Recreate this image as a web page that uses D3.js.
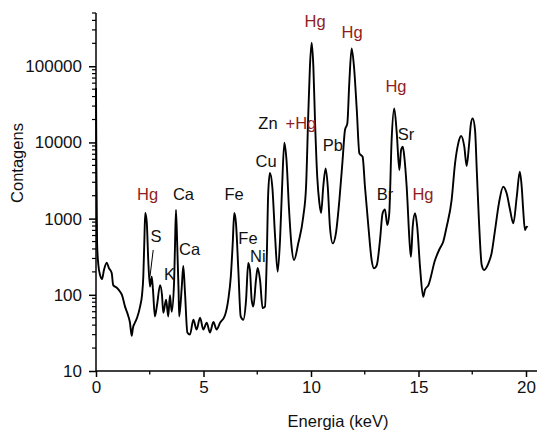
<!DOCTYPE html>
<html>
<head>
<meta charset="utf-8">
<script src="https://cdn.jsdelivr.net/npm/d3@7"></script>
<style>
  html, body { margin: 0; padding: 0; background: #fff; }
  svg { display: block; }
  text { font-family: "Liberation Sans", Arial, sans-serif; }
</style>
</head>
<body>
<svg id="chart" width="537" height="432"></svg>
<script>
// ---- data ----
const energy = [0, 0.02, 0.05, 0.11, 0.19, 0.28, 0.37, 0.50, 0.60, 0.73, 0.80, 0.98, 1.12, 1.21, 1.35, 1.49, 1.58, 1.66, 1.72, 1.81,
  1.91, 2.05, 2.14, 2.20, 2.25, 2.29, 2.36, 2.43, 2.51, 2.59, 2.65, 2.74, 2.84, 2.98, 3.07, 3.13, 3.26, 3.36, 3.44, 3.52,
  3.63, 3.67, 3.72, 3.78, 3.84, 3.87, 3.99, 4.06, 4.14, 4.25, 4.37, 4.53, 4.68, 4.84, 4.99, 5.15, 5.30, 5.46, 5.61, 5.77,
  6.00, 6.15, 6.27, 6.36, 6.43, 6.51, 6.62, 6.73, 6.85, 6.98, 7.08, 7.16, 7.24, 7.32, 7.44, 7.52, 7.63, 7.75, 7.86, 7.94,
  8.01, 8.09, 8.20, 8.33, 8.45, 8.56, 8.65, 8.76, 8.86, 8.98, 9.09, 9.21, 9.41, 9.64, 9.77, 9.87, 9.95, 10.03, 10.11, 10.19,
  10.29, 10.39, 10.47, 10.57, 10.68, 10.78, 10.88, 11.01, 11.16, 11.32, 11.47, 11.58, 11.69, 11.78, 11.89, 12.00, 12.13, 12.25, 12.40, 12.51,
  12.67, 12.82, 12.93, 13.06, 13.21, 13.33, 13.44, 13.55, 13.64, 13.75, 13.87, 13.99, 14.11, 14.19, 14.27, 14.34, 14.45, 14.60, 14.65, 14.73,
  14.84, 14.94, 15.07, 15.22, 15.30, 15.46, 15.77, 16.00, 16.15, 16.31, 16.54, 16.70, 16.85, 16.98, 17.13, 17.24, 17.35, 17.44, 17.52, 17.63,
  17.71, 17.81, 17.94, 18.05, 18.25, 18.40, 18.56, 18.74, 18.94, 19.10, 19.26, 19.41, 19.57, 19.71, 19.80, 19.87, 19.95, 20.03, 20.08];
const counts = [52000, 4300, 480, 246, 182, 161, 212, 264, 225, 193, 134, 123, 110, 99, 70, 54, 43, 29, 37, 43,
  50, 70, 99, 173, 524, 1184, 911, 286, 128, 173, 116, 52, 74, 134, 99, 58, 86, 52, 99, 60,
  143, 387, 1297, 428, 116, 52, 128, 239, 106, 32, 30, 47, 35, 50, 35, 43, 32, 44, 35, 43,
  54, 86, 173, 478, 1184, 875, 212, 52, 47, 86, 261, 212, 86, 70, 156, 225, 156, 67, 70, 286,
  2168, 3967, 2623, 578, 201, 524, 2372, 9910, 5875, 1297, 450, 286, 478, 1059, 2623, 21730, 98400, 203300, 98400, 17980,
  3548, 1602, 1184, 2623, 4571, 2623, 783, 474, 647, 1754, 5875, 14550, 17820, 59700, 171800, 98400, 26610, 7190, 6490, 2623,
  783, 286, 223, 246, 524, 1174, 1324, 824, 1174, 10740, 28000, 13160, 4345, 7943, 8790, 6490, 2623, 428, 316, 783,
  1174, 783, 234, 94, 116, 134, 286, 411, 498, 783, 1754, 5320, 9730, 12130, 8790, 4900, 9250, 17820, 20700, 14550,
  4345, 959, 246, 212, 259, 351, 708, 1588, 2623, 2148, 1297, 867, 1937, 4125, 2623, 1297, 708, 783, 769];

const xTicks = [0, 5, 10, 15, 20];
const xMinorTicks = [2.5, 7.5, 12.5, 17.5];
const yTicks = [10, 100, 1000, 10000, 100000];

const peakLabels = ["Hg", "Ca", "S", "K", "Ca", "Fe", "Fe", "Ni", "Cu", "Zn", "+Hg", "Hg", "Hg", "Pb", "Hg", "Sr", "Br", "Hg"];
const peakEnergy = [2.40, 4.07, 2.79, 3.42, 4.35, 6.42, 7.07, 7.53, 7.91, 8.00, 9.53, 10.19, 11.91, 11.02, 13.95, 14.42, 13.44, 15.21];
const peakCount  = [2104, 2104, 591, 187, 399, 2104, 556, 323, 5700, 17980, 17980, 391800, 281000, 9250, 54950, 12890, 2104, 2104];
const peakIsHg   = [true, false, false, false, false, false, false, false, false, false, true, true, true, false, true, false, false, true];

// leader line from "S" label to its peak
const leaderEnergy = [2.66, 2.51];
const leaderCount = [387, 173];

// ---- drawing ----
const svg = d3.select("#chart");
const margin = {left: 96, right: 0.25, top: 13, bottom: 61};
const W = 537, H = 432;

const x = d3.scaleLinear().domain([0, 20.5]).range([margin.left, W - margin.right]);
const y = d3.scaleLog().domain([10, 500000]).range([H - margin.bottom, margin.top]);

const fontTick = "17px";
const red = "#8f1d1d";

// x axis
const xAxisG = svg.append("g").attr("transform", `translate(0,${H - margin.bottom})`);
xAxisG.call(d3.axisBottom(x).tickValues(xTicks).tickSize(6).tickPadding(4).tickFormat(d3.format("d")));
xAxisG.append("g").selectAll("line").data(xMinorTicks).join("line")
  .attr("x1", d => x(d)).attr("x2", d => x(d)).attr("y1", 0).attr("y2", 3.5)
  .attr("stroke", "#000").attr("stroke-width", 1.3);
xAxisG.selectAll(".domain").attr("d", `M${x(0)},0H${W}`).attr("stroke-width", 1.5);
xAxisG.selectAll(".tick line").attr("stroke-width", 1.5);
xAxisG.selectAll("text").attr("font-size", fontTick).attr("font-family", "Liberation Sans, Arial, sans-serif").attr("fill", "#111");

// y axis
const yAxisG = svg.append("g").attr("transform", `translate(${margin.left},0)`);
yAxisG.call(d3.axisLeft(y).tickValues(yTicks).tickSize(7).tickPadding(7).tickFormat(d3.format("d")));
const yMinor = [];
yTicks.forEach(t => { for (let m = 2; m <= 9; m++) { if (t * m <= 500000) yMinor.push(t * m); } });
yAxisG.append("g").selectAll("line").data(yMinor).join("line")
  .attr("x1", -4).attr("x2", 0).attr("y1", d => y(d)).attr("y2", d => y(d))
  .attr("stroke", "#000").attr("stroke-width", 1.2);
yAxisG.selectAll(".domain").attr("d", `M0,${y(10)}V${y(500000)}`).attr("stroke-width", 1.5);
yAxisG.selectAll(".tick line").attr("stroke-width", 1.5);
yAxisG.selectAll("text").attr("font-size", fontTick).attr("font-family", "Liberation Sans, Arial, sans-serif").attr("fill", "#111");

// axis titles
svg.append("text")
  .attr("transform", `translate(23,163) rotate(-90)`)
  .attr("text-anchor", "middle").attr("font-size", "16.5px").attr("fill", "#111")
  .text("Contagens");
svg.append("text")
  .attr("x", 338).attr("y", 427)
  .attr("text-anchor", "middle").attr("font-size", "16.5px").attr("fill", "#111")
  .text("Energia (keV)");

// spectrum
const pts = energy.map((e, i) => [e, counts[i]]);
const line = d3.line().x(d => x(d[0])).y(d => y(d[1])).curve(d3.curveMonotoneX);
svg.append("path").datum(pts)
  .attr("d", line)
  .attr("fill", "none").attr("stroke", "#000").attr("stroke-width", 1.9)
  .attr("stroke-linejoin", "round");

// leader line
svg.append("line")
  .attr("x1", x(leaderEnergy[0])).attr("y1", y(leaderCount[0]))
  .attr("x2", x(leaderEnergy[1])).attr("y2", y(leaderCount[1]))
  .attr("stroke", "#000").attr("stroke-width", 1);

// peak labels
svg.append("g").selectAll("text").data(peakLabels).join("text")
  .attr("x", (d, i) => x(peakEnergy[i]))
  .attr("y", (d, i) => y(peakCount[i]))
  .attr("dy", "0.36em")
  .attr("text-anchor", "middle")
  .attr("font-size", "16.5px")
  .attr("fill", (d, i) => peakIsHg[i] ? red : "#111")
  .text(d => d);
</script>
</body>
</html>
